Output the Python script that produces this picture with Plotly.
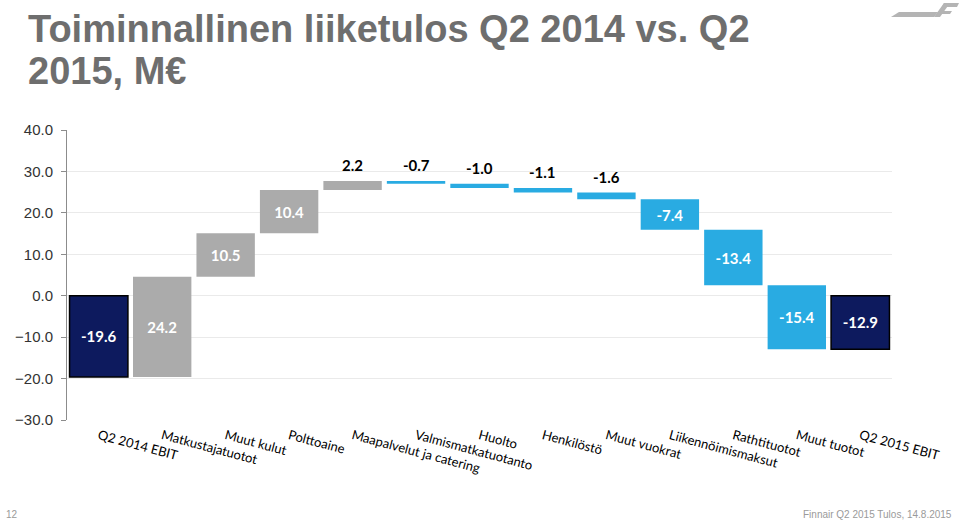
import plotly.graph_objects as go

# ---------------- data ----------------
categories = ["Q2 2014 EBIT", "Matkustajatuotot", "Muut kulut", "Polttoaine",
              "Maapalvelut ja catering", "Valmismatkatuotanto", "Huolto",
              "Henkilöstö", "Muut vuokrat", "Liikennöimismaksut", "Rathtituotot",
              "Muut tuotot", "Q2 2015 EBIT"]
values = [-19.6, 24.2, 10.5, 10.4, 2.2, -0.7, -1.0, -1.1, -1.6, -7.4, -13.4, -15.4, -12.9]
measures = ["absolute"] + ["relative"] * 11 + ["total"]
y_ticks = [-30, -20, -10, 0, 10, 20, 30, 40]

title_line1 = "Toiminnallinen liiketulos Q2 2014 vs. Q2"
title_line2 = "2015, M€"
page_no = "12"
footer = "Finnair Q2 2015 Tulos, 14.8.2015"

# ---------------- style ----------------
GRAY = "#ABABAB"
BLUE = "#29ABE2"
NAVY = "#0D1A5E"
W, H = 960, 521
ML, MR, MT, MB = 67, 68, 130, 101
PW, PH = W - ML - MR, H - MT - MB


def px(xp):
    return (xp - ML) / PW


def py(yp):
    return (H - MB - yp) / PH


# cumulative positions (for label placement of thin bars)
starts, ends = [], []
run = 0.0
for v, m in zip(values, measures):
    if m == "absolute":
        s, e = 0.0, v
        run = v
    elif m == "relative":
        s, e = run, run + v
        run = run + v
    else:
        s, e = 0.0, run
    starts.append(s)
    ends.append(e)

labels = [f"{v:.1f}" for v in values]
small = [abs(v) < 5 for v in values]
textpos = ["none" if sm else "inside" for sm in small]

fig = go.Figure()
fig.add_trace(go.Waterfall(
    x=categories,
    y=values,
    measure=measures,
    text=labels,
    textposition=textpos,
    insidetextanchor="middle",
    insidetextfont=dict(family="Lato", size=15, color="white", weight="bold"),
    increasing=dict(marker=dict(color=GRAY)),
    decreasing=dict(marker=dict(color=BLUE)),
    totals=dict(marker=dict(color=NAVY, line=dict(color="#000000", width=1.5))),
    connector=dict(visible=False),
    hoverinfo="skip",
    showlegend=False,
))

annotations = []
for c, lab, sm, s, e in zip(categories, labels, small, starts, ends):
    if sm:
        annotations.append(dict(
            x=c, y=max(s, e), xref="x", yref="y", text=lab, showarrow=False,
            yanchor="bottom", yshift=5,
            font=dict(family="Lato", size=15, color="#000000", weight="bold")))

# title
annotations.append(dict(x=px(26), y=py(29), xref="paper", yref="paper",
                        text=title_line1, showarrow=False, xanchor="left", yanchor="middle",
                        font=dict(family="Liberation Sans", size=38, color="#6E6E6E", weight="bold")))
annotations.append(dict(x=px(26), y=py(71), xref="paper", yref="paper",
                        text=title_line2, showarrow=False, xanchor="left", yanchor="middle",
                        font=dict(family="Liberation Sans", size=38, color="#6E6E6E", weight="bold")))
# footers
annotations.append(dict(x=px(4), y=py(514), xref="paper", yref="paper",
                        text=page_no, showarrow=False, xanchor="left", yanchor="middle",
                        font=dict(family="Liberation Sans", size=10, color="#9A9A9A")))
annotations.append(dict(x=px(954), y=py(514), xref="paper", yref="paper",
                        text=footer, showarrow=False, xanchor="right", yanchor="middle",
                        font=dict(family="Liberation Sans", size=10, color="#9A9A9A")))


def path_from(points):
    return "M " + " L ".join(f"{px(a):.5f},{py(b):.5f}" for a, b in points) + " Z"


logo_parts = [
    [(891, 17), (934, 17), (938, 12), (899, 12)],
    [(934, 17), (940, 17), (950, 3), (944, 3)],
    [(944, 3), (959, 3), (957, 7), (942, 7)],
    [(939, 11), (952, 11), (950, 14), (937, 14)],
]
shapes = [dict(type="path", xref="paper", yref="paper", path=path_from(p),
               fillcolor="#B4B4B4", line=dict(width=0), layer="above") for p in logo_parts]

n = len(categories)
fig.update_layout(
    width=W, height=H,
    margin=dict(l=ML, r=MR, t=MT, b=MB, pad=0),
    paper_bgcolor="white", plot_bgcolor="white",
    waterfallgap=0.08,
    annotations=annotations,
    shapes=shapes,
    xaxis=dict(
        type="category", range=[-0.5, n - 0.5], showgrid=False, showline=False,
        zeroline=False, ticks="", tickangle=15, ticklabelstandoff=5,
        tickfont=dict(family="Lato", size=13, color="#000000"),
    ),
    xaxis2=dict(
        overlaying="x", anchor="free", position=(0 - y_ticks[0]) / (y_ticks[-1] - y_ticks[0]),
        range=[-0.5, n - 0.5], tickvals=[i - 0.5 for i in range(n + 1)],
        showticklabels=False, ticks="outside", ticklen=3, tickcolor="#8C8C8C",
        showline=True, linecolor="#8C8C8C", linewidth=1.5, showgrid=False, zeroline=False,
    ),
    yaxis=dict(
        range=[y_ticks[0], y_ticks[-1]], tickvals=y_ticks, tickformat=".1f",
        showgrid=True, gridcolor="#EAEAEA", gridwidth=1,
        showline=True, linecolor="#8C8C8C", linewidth=1,
        ticks="outside", ticklen=5, tickcolor="#8C8C8C", ticklabelstandoff=5,
        zeroline=False,
        tickfont=dict(family="Liberation Sans", size=15, color="#333333"),
    ),
)

fig.write_html("out.html", config={"displayModeBar": False},
               post_script="document.body.style.margin='0';document.body.style.overflow='hidden';")
